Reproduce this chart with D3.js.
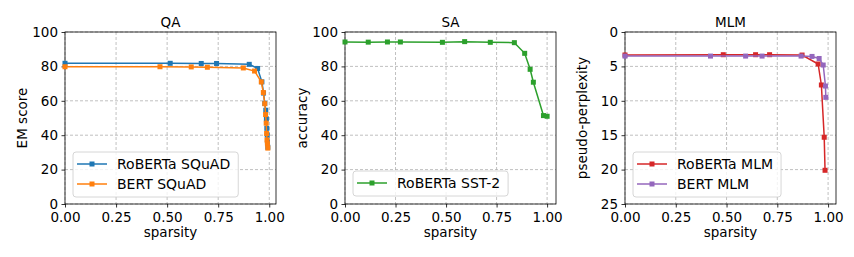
<!DOCTYPE html>
<html>
<head>
<meta charset="utf-8">
<script src="https://d3js.org/d3.v7.min.js"></script>
<style>
  body { margin: 0; background: #fff; }
  svg text { font-family: "DejaVu Sans", sans-serif; fill: #000; }
</style>
</head>
<body>
<div id="chart"></div>
<script>
// ---- data ----
const qaRobertaX = [0, 0.515, 0.667, 0.742, 0.902, 0.943, 0.964, 0.972, 0.978, 0.983, 0.986, 0.988, 0.990, 0.991, 0.993];
const qaRobertaY = [81.8, 81.8, 81.7, 81.7, 81.2, 78.8, 71.0, 64.5, 58.5, 54.5, 49.5, 44.0, 40.0, 36.0, 33.0];
const qaBertX = [0, 0.465, 0.618, 0.697, 0.873, 0.928, 0.961, 0.971, 0.978, 0.982, 0.985, 0.987, 0.989, 0.991, 0.993];
const qaBertY = [79.8, 79.8, 79.7, 79.5, 79.1, 77.3, 71.0, 64.8, 58.3, 52.0, 47.0, 41.0, 37.2, 35.0, 32.5];

const saRobertaX = [0, 0.115, 0.21, 0.274, 0.482, 0.592, 0.719, 0.838, 0.889, 0.916, 0.932, 0.982, 1.0];
const saRobertaY = [94.2, 94.1, 94.2, 94.2, 94.0, 94.4, 94.0, 93.8, 87.6, 78.3, 70.8, 51.4, 51.0];

const mlmRobertaX = [0, 0.484, 0.643, 0.712, 0.872, 0.951, 0.967, 0.981, 0.985];
const mlmRobertaY = [3.34, 3.3, 3.3, 3.3, 3.35, 4.65, 7.7, 15.3, 20.1];
const mlmBertX = [0, 0.421, 0.594, 0.675, 0.867, 0.921, 0.956, 0.976, 0.987, 0.989];
const mlmBertY = [3.5, 3.5, 3.5, 3.5, 3.5, 3.55, 3.85, 4.8, 7.85, 9.5];

const xTicks = [0, 0.25, 0.5, 0.75, 1.0];

const panels = [
  { title: 'QA', ylabel: 'EM score', left: 65, xmax: 1.033, ydom: [0, 100], yTicks: [0, 20, 40, 60, 80, 100],
    legendY: 152,
    series: [
      { name: 'RoBERTa SQuAD', color: '#1f77b4', x: qaRobertaX, y: qaRobertaY },
      { name: 'BERT SQuAD', color: '#ff7f0e', x: qaBertX, y: qaBertY }
    ] },
  { title: 'SA', ylabel: 'accuracy', left: 345, xmax: 1.044, ydom: [0, 100], yTicks: [0, 20, 40, 60, 80, 100],
    legendY: 171,
    series: [
      { name: 'RoBERTa SST-2', color: '#2ca02c', x: saRobertaX, y: saRobertaY }
    ] },
  { title: 'MLM', ylabel: 'pseudo-perplexity', left: 625, xmax: 1.039, ydom: [25, 0], yTicks: [0, 5, 10, 15, 20, 25],
    legendY: 152,
    series: [
      { name: 'RoBERTa MLM', color: '#d62728', x: mlmRobertaX, y: mlmRobertaY },
      { name: 'BERT MLM', color: '#9467bd', x: mlmBertX, y: mlmBertY }
    ] }
];

const W = 854, H = 257;
const plotTop = 32, plotBottom = 204, plotW = 211;
const fs = 13.5;

const svg = d3.select('#chart').append('svg')
  .attr('width', W).attr('height', H);

panels.forEach(p => {
  const x = d3.scaleLinear().domain([0, p.xmax]).range([p.left, p.left + plotW]);
  const y = d3.scaleLinear().domain(p.ydom).range([plotBottom, plotTop]);
  const g = svg.append('g');

  // grid
  g.selectAll('.vgrid').data(xTicks).join('line')
    .attr('x1', d => x(d)).attr('x2', d => x(d))
    .attr('y1', plotTop).attr('y2', plotBottom)
    .attr('stroke', '#b0b0b0').attr('stroke-width', 0.8).attr('stroke-dasharray', '3,2');
  g.selectAll('.hgrid').data(p.yTicks).join('line')
    .attr('x1', p.left).attr('x2', p.left + plotW)
    .attr('y1', d => y(d)).attr('y2', d => y(d))
    .attr('stroke', '#b0b0b0').attr('stroke-width', 0.8).attr('stroke-dasharray', '3,2');

  // axes
  const xAxis = g.append('g').attr('transform', `translate(0,${plotBottom})`)
    .call(d3.axisBottom(x).tickValues(xTicks).tickFormat(d3.format('.2f')).tickSize(3.5).tickPadding(4.5));
  const yAxis = g.append('g').attr('transform', `translate(${p.left},0)`)
    .call(d3.axisLeft(y).tickValues(p.yTicks).tickFormat(d3.format('d')).tickSize(3.5).tickPadding(3.5));
  [xAxis, yAxis].forEach(a => {
    a.select('.domain').remove();
    a.selectAll('text').attr('font-size', fs).attr('font-family', '"DejaVu Sans", sans-serif').attr('fill', '#000');
    a.selectAll('line').attr('stroke', '#000').attr('stroke-width', 0.8);
  });

  // frame
  g.append('rect').attr('x', p.left).attr('y', plotTop).attr('width', plotW).attr('height', plotBottom - plotTop)
    .attr('fill', 'none').attr('stroke', '#000').attr('stroke-width', 0.8);

  // series
  p.series.forEach(s => {
    const pts = s.x.map((v, i) => [v, s.y[i]]);
    g.append('path').datum(pts)
      .attr('d', d3.line().x(d => x(d[0])).y(d => y(d[1])))
      .attr('fill', 'none').attr('stroke', s.color).attr('stroke-width', 1.5);
    g.selectAll(null).data(pts).join('rect')
      .attr('x', d => x(d[0]) - 2.5).attr('y', d => y(d[1]) - 2.5)
      .attr('width', 5).attr('height', 5).attr('fill', s.color);
  });

  // titles
  g.append('text').attr('x', p.left + plotW / 2).attr('y', 27).attr('text-anchor', 'middle')
    .attr('font-size', fs).text(p.title);
  g.append('text').attr('x', p.left + plotW / 2).attr('y', 237).attr('text-anchor', 'middle')
    .attr('font-size', fs).text('sparsity');
  g.append('text').attr('transform', `translate(${p.left - 38},${(plotTop + plotBottom) / 2}) rotate(-90)`)
    .attr('text-anchor', 'middle').attr('font-size', fs).text(p.ylabel);

  // legend
  const lx = p.left + 8, ly = p.legendY;
  const lh = p.series.length * 20 + 5;
  const leg = g.append('g');
  const box = leg.append('rect').attr('x', lx).attr('y', ly).attr('height', lh)
    .attr('rx', 3).attr('fill', '#fff').attr('fill-opacity', 0.8)
    .attr('stroke', '#cccccc').attr('stroke-width', 0.8);
  let maxW = 0;
  p.series.forEach((s, i) => {
    const cy = ly + 12 + i * 20;
    leg.append('line').attr('x1', lx + 4).attr('x2', lx + 34).attr('y1', cy).attr('y2', cy)
      .attr('stroke', s.color).attr('stroke-width', 1.5);
    leg.append('rect').attr('x', lx + 19 - 2.5).attr('y', cy - 2.5).attr('width', 5).attr('height', 5)
      .attr('fill', s.color);
    const t = leg.append('text').attr('x', lx + 44).attr('y', cy + 5).attr('font-size', 14).text(s.name);
    maxW = Math.max(maxW, t.node().getComputedTextLength());
  });
  box.attr('width', maxW + 44 + 8);
});
</script>
</body>
</html>
